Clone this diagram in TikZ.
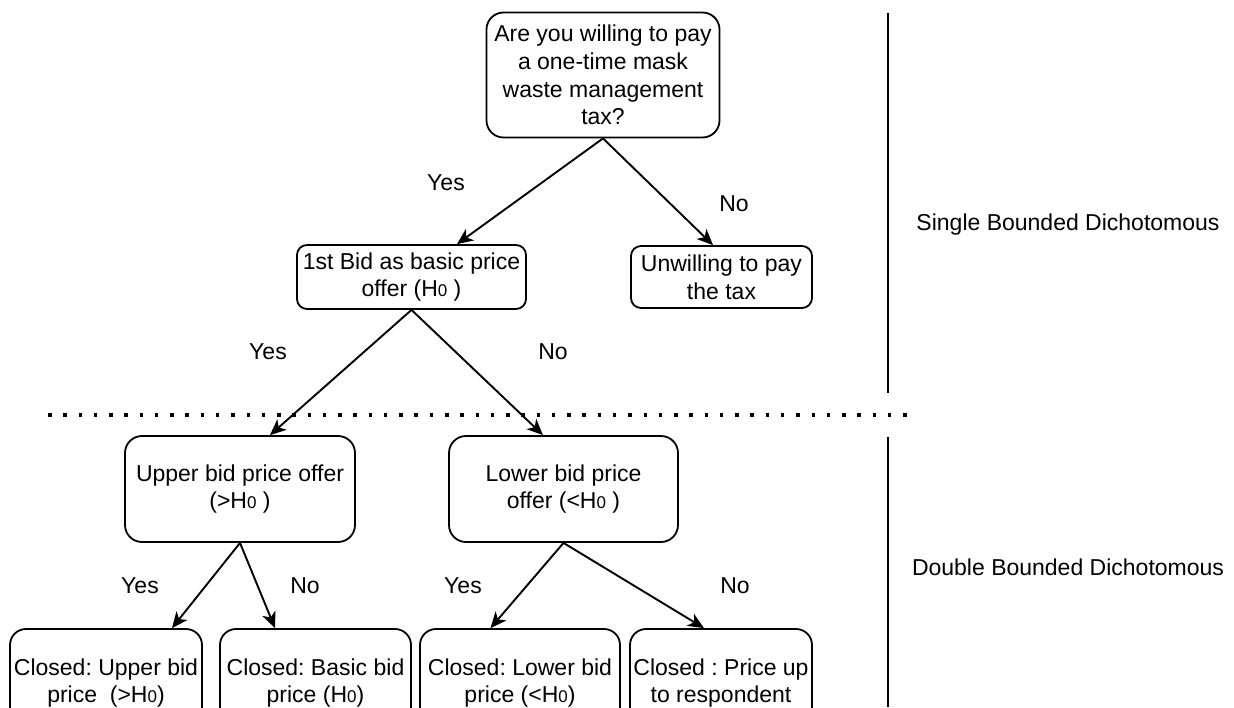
\documentclass[tikz,border=0pt]{standalone}
\usepackage{fontspec}
\setmainfont{Liberation Sans}
\usetikzlibrary{arrows.meta, positioning}
\newcommand{\Hz}{H{\fontsize{17}{17}\selectfont 0}}
\frenchspacing

\begin{document}
\begin{tikzpicture}[x=1pt, y=-1pt,
	font=\fontsize{23}{27.6}\selectfont,
	box/.style={draw, line width=1.8pt, align=center, inner sep=0pt, rounded corners=#1},
	box/.default=16pt,
	arr/.style={-{Stealth[length=16pt,width=14pt,inset=4.5pt]}, line width=1.9pt},
	lbl/.style={inner sep=0pt},
]
	\clip (0,0) rectangle (1234,707);

	% question and first bid
	\node[box=17pt, minimum width=233pt, minimum height=125pt] (ask) at (603,75) {Are you willing to pay\\a one-time mask\\waste management\\tax?};
	\node[box=10pt, minimum width=229pt, minimum height=64pt] (bid) at (411.5,277) {1st Bid as basic price\\offer (\Hz\ )};
	\node[box=10pt, minimum width=181pt, minimum height=62pt] (unw) at (721.5,277) {Unwilling to pay\\the tax};

	% second bid
	\node[box=17pt, minimum width=230pt, minimum height=106pt] (up) at (240,489) {Upper bid price offer\\(>\Hz\ )};
	\node[box=17pt, minimum width=229pt, minimum height=106pt] (low) at (563.5,489) {Lower bid price\\offer (<\Hz\ )};

	% closed answers
	\foreach \cx/\w/\txt [count=\i] in {
		106/192/{Closed: Upper bid\\price~~(>\Hz)},
		315.5/191/{Closed: Basic bid\\price (\Hz)},
		520/200/{Closed: Lower bid\\price (<\Hz)},
		721/182/{Closed : Price up\\to respondent}} {
		\node[box=16pt, minimum width=\w pt, minimum height=108pt] (c\i) at (\cx,683) {\txt};
	}

	% arrows
	\draw[arr] (ask.south) -- ([xshift=45.5pt]bid.north);
	\draw[arr] (ask.south) -- ([xshift=-8.5pt]unw.north);
	\draw[arr] (bid.south) -- ([xshift=30pt]up.north);
	\draw[arr] (bid.south) -- ([xshift=-20.5pt]low.north);
	\draw[arr] (up.south) -- ([xshift=66pt]c1.north);
	\draw[arr] (up.south) -- ([xshift=-40.5pt]c2.north);
	\draw[arr] (low.south) -- ([xshift=-29.5pt]c3.north);
	\draw[arr] (low.south) -- ([xshift=-17pt]c4.north);

	% answer labels
	\foreach \t/\lx/\ly [count=\k] in {Yes/446/183, No/734/204, Yes/268/352, No/553/352,
		Yes/140/586, No/305/586, Yes/463/586, No/735/586} {
		\node[lbl] (a\k) at (\lx,\ly) {\t};
	}

	% section dividers
	\draw[line width=1.8pt] (888,13) -- (888,393);
	\draw[line width=1.8pt] (888,437) -- (888,707);
	\draw[line width=3.5pt, dash pattern=on 3.5pt off 11.77pt] (48,415) -- (908.5,415);

	% section names
	\node[lbl] (single) at (1068,225) {Single Bounded Dichotomous};
	\node[lbl] (double) at (1068,567) {Double Bounded Dichotomous};
\end{tikzpicture}
\end{document}
